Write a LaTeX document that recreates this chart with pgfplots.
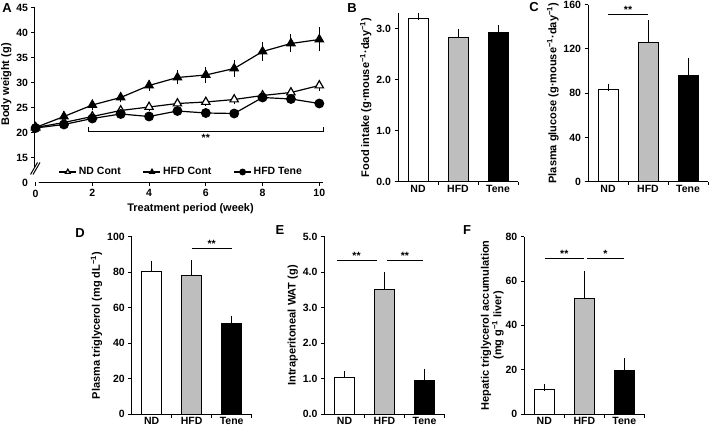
\documentclass[border=0pt]{standalone}
\usepackage{fontspec}
\setmainfont{Liberation Sans}
\usepackage{pgfplots}
\pgfplotsset{compat=1.18}
\definecolor{hfdgray}{RGB}{190,190,190}
\newcommand{\fs}{\fontsize{10.5bp}{12.5bp}\selectfont\bfseries}
\newcommand{\fl}{\fontsize{11bp}{12.5bp}\selectfont\bfseries}
\newcommand{\fp}{\fontsize{13bp}{15bp}\selectfont\bfseries}
\newcommand{\m}{\textsuperscript{−1}}
% significance bar: x1, x2, y, xmid, stars
\newcommand{\sig}[5]{%
  \draw[line width=1bp] (axis cs:#1,#3) -- (axis cs:#2,#3);
  \node[font=\fs, anchor=south, inner sep=0.5bp] at (axis cs:#4,#3) {#5};}

\pgfplotsset{
  panel/.style={scale only axis, axis lines*=left, clip=false,
    hide obscured x ticks=false, hide obscured y ticks=false,
    axis line style={line width=1bp},
    every tick/.style={black, line width=1bp},
    tick align=outside, major tick length=3.5bp,
    tick label style={font=\fs}, label style={font=\fl},
    ylabel shift=-2bp,
    /pgf/number format/assume math mode=true},
  bars/.style={panel, width=120bp, xmin=-0.5, xmax=2.5, ymin=0,
    xtick={0.5,1.5,2.5}, xticklabels={},
    extra x ticks={0,1,2}, extra x tick labels={ND,HFD,Tene},
    extra x tick style={major tick length=0pt}},
  bar/.style={ybar, bar width=0.5, bar shift=0pt, draw=black, line width=1bp,
    error bars/y dir=plus, error bars/y explicit,
    error bars/error bar style={line width=1bp},
    error bars/error mark options={line width=1bp, mark size=3.5bp}},
  onedec/.style={yticklabel style={/pgf/number format/.cd, fixed, fixed zerofill, precision=1}},
}

\begin{document}
\begin{tikzpicture}
\useasboundingbox (0,0) rectangle (709bp,430bp);

% ---- A: body weight
\begin{axis}[panel, at={(35bp,247.5bp)}, anchor=south west,
  width=288bp, height=175bp,
  xmin=-0.02, xmax=10.13, ymin=10, ymax=45,
  xtick={2,4,...,10},
  ytick={10,15,...,45},
  yticklabels={0,15,20,25,30,35,40,45},
  xlabel={Treatment period (week)}, ylabel={Body weight (g)},
  xlabel style={at={(ticklabel cs:0.54)}},
  ylabel style={at={(ticklabel cs:0.56)}},
  legend columns=3,
  legend style={draw=none, fill=none, inner sep=0pt, font=\fs,
    at={(axis description cs:0.508,0.06)}, anchor=center,
    /tikz/every even column/.append style={column sep=20bp}},
  legend image code/.code={\draw[mark repeat=2, mark phase=2, #1, mark size=2.8bp]
    plot coordinates {(0bp,0bp) (8.5bp,0bp) (17bp,0bp)};},
  every axis plot/.append style={line width=1.2bp,
    error bars/y dir=both, error bars/y explicit,
    error bars/error bar style={line width=0.9bp},
    error bars/error mark options={line width=0.9bp, mark size=2.5bp}},
]
\addplot[black, mark=triangle*, mark options={fill=white, solid}, mark size=4.8bp]
  coordinates {(0,21.0) +- (0,0.3) (1,22.0) +- (0,0.3) (2,23.2) +- (0,0.3)
  (3,24.4) +- (0,0.3) (4,25.1) +- (0,0.4) (5,25.8) +- (0,0.4) (6,26.1) +- (0,0.4)
  (7,26.6) +- (0,0.4) (8,27.4) +- (0,0.4) (9,28.0) +- (0,0.4) (10,29.4) +- (0,0.6)};
\addlegendentry{ND Cont}
\addplot[black, mark=triangle*, mark options={fill=black}, mark size=4.8bp]
  coordinates {(0,21.0) +- (0,0.3) (1,23.2) +- (0,0.5) (2,25.5) +- (0,0.5)
  (3,27.0) +- (0,0.5) (4,29.4) +- (0,0.6) (5,31.0) +- (0,0.9) (6,31.5) +- (0,1.1)
  (7,32.8) +- (0,1.2) (8,36.2) +- (0,1.4) (9,37.8) +- (0,1.3) (10,38.6) +- (0,1.9)};
\addlegendentry{HFD Cont}
\addplot[black, mark=*, mark options={fill=black}, mark size=4.3bp]
  coordinates {(0,20.9) +- (0,0.3) (1,21.6) +- (0,0.3) (2,22.8) +- (0,0.3)
  (3,23.7) +- (0,0.4) (4,23.2) +- (0,0.4) (5,24.3) +- (0,0.4) (6,23.9) +- (0,0.4)
  (7,23.8) +- (0,0.4) (8,27.0) +- (0,0.4) (9,26.7) +- (0,0.4) (10,25.8) +- (0,0.4)};
\addlegendentry{HFD Tene}
% bracket and stars
\draw[line width=1bp] (axis cs:1.85,21.0) -- (axis cs:1.85,20.2) -- (axis cs:10.15,20.2) -- (axis cs:10.15,21.0);
\node[font=\fs] at (axis cs:6,19.0) {**};
% axis break
\fill[white] ([xshift=-4.5bp,yshift=-6bp]axis cs:-0.02,12.8) -- ++(7bp,12bp) -- ++(2.5bp,0) -- ++(-7bp,-12bp) -- cycle;
\draw[line width=1bp] ([xshift=-4.5bp,yshift=-6bp]axis cs:-0.02,12.8) -- ++(7bp,12bp);
\draw[line width=1bp] ([xshift=-2bp,yshift=-6bp]axis cs:-0.02,12.8) -- ++(7bp,12bp);
\end{axis}
% x tick and label at week 0 of panel A
\draw[line width=1bp] (35.6bp,247.5bp) -- (35.6bp,244bp);
\node[font=\fs, anchor=north, inner sep=0pt] at (35.6bp,240.5bp) {0};

% ---- B: food intake
\begin{axis}[bars, onedec, at={(398bp,248.3bp)}, anchor=south west, height=168.4bp,
  ymax=3.3, ytick={0,1,2,3},
  ylabel={Food intake (g·mouse\m·day\m)}]
\addplot[bar, fill=white] coordinates {(0,3.20) +- (0,0.04)};
\addplot[bar, fill=hfdgray] coordinates {(1,2.83) +- (0,0.09)};
\addplot[bar, fill=black] coordinates {(2,2.92) +- (0,0.08)};
\end{axis}

% ---- C: plasma glucose
\begin{axis}[bars, at={(588bp,248.3bp)}, anchor=south west, height=177bp,
  ymax=160, ytick={0,40,...,160},
  ylabel={Plasma glucose (g·mouse\m·day\m)}]
\addplot[bar, fill=white] coordinates {(0,83) +- (0,2.5)};
\addplot[bar, fill=hfdgray] coordinates {(1,126) +- (0,17)};
\addplot[bar, fill=black] coordinates {(2,96) +- (0,13)};
\sig{0}{1}{151}{0.5}{**}
\end{axis}

% ---- D: plasma triglycerol
\begin{axis}[bars, at={(131.7bp,16bp)}, anchor=south west, height=177.3bp,
  ymax=100, ytick={0,20,...,100},
  ylabel={Plasma triglycerol (mg dL\m)}]
\addplot[bar, fill=white] coordinates {(0,80.5) +- (0,4)};
\addplot[bar, fill=hfdgray] coordinates {(1,78) +- (0,7)};
\addplot[bar, fill=black] coordinates {(2,51) +- (0,2.5)};
\sig{1}{2}{93.4}{1.5}{**}
\end{axis}

% ---- E: intraperitoneal WAT
\begin{axis}[bars, onedec, at={(324.5bp,16bp)}, anchor=south west, height=177.3bp,
  ymax=5, ytick={0,1,...,5},
  ylabel={Intraperitoneal WAT (g)}]
\addplot[bar, fill=white] coordinates {(0,1.02) +- (0,0.1)};
\addplot[bar, fill=hfdgray] coordinates {(1,3.52) +- (0,0.38)};
\addplot[bar, fill=black] coordinates {(2,0.95) +- (0,0.23)};
\sig{-0.2}{0.8}{4.34}{0.3}{**}
\sig{1.05}{1.97}{4.34}{1.51}{**}
\end{axis}

% ---- F: hepatic triglycerol
\begin{axis}[bars, at={(524.3bp,16bp)}, anchor=south west, height=177.3bp,
  ymax=80, ytick={0,20,...,80},
  ylabel={Hepatic triglycerol accumulation\\(mg g\m{} liver)},
  ylabel style={align=center}, ylabel shift=-5bp]
\addplot[bar, fill=white] coordinates {(0,11) +- (0,1)};
\addplot[bar, fill=hfdgray] coordinates {(1,52) +- (0,11)};
\addplot[bar, fill=black] coordinates {(2,19.5) +- (0,4)};
\sig{0.02}{0.98}{70.3}{0.5}{**}
\sig{1.06}{2.0}{70.3}{1.53}{*}
\end{axis}

% panel letters
\node[font=\fp] at (7bp,422bp) {A};
\node[font=\fp] at (352bp,422bp) {B};
\node[font=\fp] at (534bp,423bp) {C};
\node[font=\fp] at (80bp,197bp) {D};
\node[font=\fp] at (280bp,200bp) {E};
\node[font=\fp] at (467bp,200bp) {F};
\end{tikzpicture}
\end{document}
